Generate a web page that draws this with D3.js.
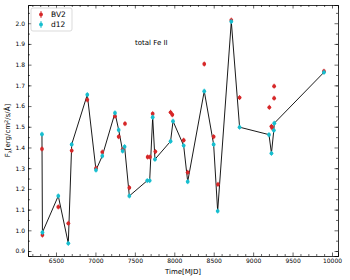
<!DOCTYPE html>
<html>
<head>
<meta charset="utf-8">
<script src="https://cdn.jsdelivr.net/npm/d3@7"></script>
<style>
  body { margin: 0; background: #fff; }
  text { font-family: "DejaVu Sans", sans-serif; }
</style>
</head>
<body>
<svg id="chart" width="350" height="280"></svg>
<script>
// d12 fit (line + cyan points)
const d12Time = [6322, 6328, 6529, 6656, 6699, 6897, 7007, 7087, 7248, 7295, 7345, 7370, 7430,
                 7657, 7688, 7726, 7755, 7953, 7984, 8119, 8170, 8380, 8499, 8550, 8723, 8828,
                 9201, 9232, 9262, 9268, 9898];
const d12Flux = [1.464, 0.990, 1.166, 0.937, 1.415, 1.655, 1.291, 1.359, 1.567, 1.485, 1.383, 1.404, 1.166,
                 1.240, 1.240, 1.546, 1.343, 1.430, 1.527, 1.409, 1.235, 1.672, 1.415, 1.093, 2.008, 1.498,
                 1.462, 1.372, 1.483, 1.517, 1.763];

// BV2 fit (red points)
const bv2Time = [6322, 6328, 6529, 6656, 6699, 6897, 7007, 7087, 7248, 7295, 7345, 7375, 7430,
                 7662, 7692, 7726, 7760, 7953, 7975, 8119, 8170, 8380, 8499, 8554, 8723, 8828,
                 9205, 9232, 9240, 9266, 9266, 9898];
const bv2Flux = [1.393, 0.977, 1.113, 1.034, 1.385, 1.630, 1.300, 1.378, 1.551, 1.452, 1.390, 1.515, 1.206,
                 1.354, 1.354, 1.563, 1.380, 1.570, 1.558, 1.435, 1.280, 1.803, 1.452, 1.222, 2.015, 1.641,
                 1.594, 1.502, 1.495, 1.696, 1.638, 1.768];

const fluxErr = 0.012;
const xTicks = [6500, 7000, 7500, 8000, 8500, 9000, 9500, 10000];
const yTicks = [1.0, 1.2, 1.4, 1.6, 1.8, 2.0];

const width = 350, height = 280;
const margin = {top: 5, right: 12, bottom: 24, left: 28};
const svg = d3.select("#chart");

const x = d3.scaleLinear().domain([6145, 10076]).range([margin.left, width - margin.right]);
const y = d3.scaleLinear().domain([0.876, 2.088]).range([height - margin.bottom, margin.top]);

const xMinor = d3.range(6200, 10001, 100).filter(v => v % 500 !== 0);
const yMinor = d3.range(0.9, 2.06, 0.05).map(v => +v.toFixed(2)).filter(v => Math.round(v * 100) % 20 !== 0);

// Axes, ticks pointing inwards on all four sides
function drawAxis(axis, transform, minor, fmt, showLabels) {
  const g = svg.append("g").attr("transform", transform)
    .call(axis.tickValues(minor).tickSize(-2).tickFormat(""));
  g.select(".domain").remove();
  const gm = svg.append("g").attr("transform", transform)
    .call(axis.tickValues(null).tickSize(-3.5).tickPadding(3).tickFormat(showLabels ? fmt : ""));
  return gm;
}

const fmtX = d3.format("d");
const fmtY = d3.format(".1f");
const ax = [
  drawAxis(d3.axisBottom(x).tickValues(xTicks), `translate(0,${height - margin.bottom})`, xMinor, fmtX, true),
  drawAxis(d3.axisTop(x).tickValues(xTicks), `translate(0,${margin.top})`, xMinor, fmtX, false),
  drawAxis(d3.axisLeft(y).tickValues(yTicks), `translate(${margin.left},0)`, yMinor, fmtY, true),
  drawAxis(d3.axisRight(y).tickValues(yTicks), `translate(${width - margin.right},0)`, yMinor, fmtY, false)
];
svg.selectAll(".tick line").attr("stroke", "#000").attr("stroke-width", 0.6);
svg.selectAll(".domain").attr("stroke", "#000").attr("stroke-width", 0.8);
svg.selectAll(".tick text").attr("font-size", 6).attr("fill", "#000").attr("font-family", "DejaVu Sans");

// d12 connecting line
const line = d3.line().x((d, i) => x(d12Time[i])).y(d => y(d));
svg.append("path")
  .attr("d", line(d12Flux))
  .attr("fill", "none")
  .attr("stroke", "#000")
  .attr("stroke-width", 0.9);

function drawPoints(times, fluxes, color) {
  const g = svg.append("g");
  times.forEach((t, i) => {
    const cx = x(t), cy = y(fluxes[i]);
    g.append("line")
      .attr("x1", cx).attr("x2", cx)
      .attr("y1", y(fluxes[i] - fluxErr)).attr("y2", y(fluxes[i] + fluxErr))
      .attr("stroke", color).attr("stroke-width", 0.9);
    g.append("circle")
      .attr("cx", cx).attr("cy", cy).attr("r", 1.9)
      .attr("fill", color);
  });
}
drawPoints(bv2Time, bv2Flux, "#d62728");
drawPoints(d12Time, d12Flux, "#17becf");

// Legend
const legend = svg.append("g");
legend.append("rect")
  .attr("x", 31).attr("y", 8).attr("width", 41).attr("height", 23).attr("rx", 2)
  .attr("fill", "#fff").attr("fill-opacity", 0.8)
  .attr("stroke", "#ccc").attr("stroke-width", 0.7);
[["BV2", "#d62728"], ["d12", "#17becf"]].forEach(([name, color], i) => {
  const ly = 14.5 + i * 10;
  legend.append("line").attr("x1", 41).attr("x2", 41).attr("y1", ly - 3.5).attr("y2", ly + 3.5)
    .attr("stroke", color).attr("stroke-width", 0.9);
  legend.append("circle").attr("cx", 41).attr("cy", ly).attr("r", 1.9).attr("fill", color);
  legend.append("text").attr("x", 51).attr("y", ly + 2.6)
    .attr("font-size", 7.5).attr("fill", "#000").text(name);
});

// Annotation
svg.append("text")
  .attr("x", 135).attr("y", 45)
  .attr("font-size", 7).attr("fill", "#000")
  .text("total Fe II");

// Axis labels
svg.append("text")
  .attr("x", (margin.left + width - margin.right) / 2).attr("y", 274)
  .attr("text-anchor", "middle").attr("font-size", 7).attr("fill", "#000")
  .text("Time[MJD]");

const yl = svg.append("text")
  .attr("transform", `translate(10,${(margin.top + height - margin.bottom) / 2}) rotate(-90)`)
  .attr("text-anchor", "middle").attr("font-size", 7).attr("fill", "#000");
yl.append("tspan").text("F");
yl.append("tspan").attr("font-size", 5).attr("dy", 1.5).text("λ");
yl.append("tspan").attr("dy", -1.5).text("[erg/cm");
yl.append("tspan").attr("font-size", 5).attr("dy", -2.5).text("2");
yl.append("tspan").attr("dy", 2.5).text("/s/Å]");
</script>
</body>
</html>
